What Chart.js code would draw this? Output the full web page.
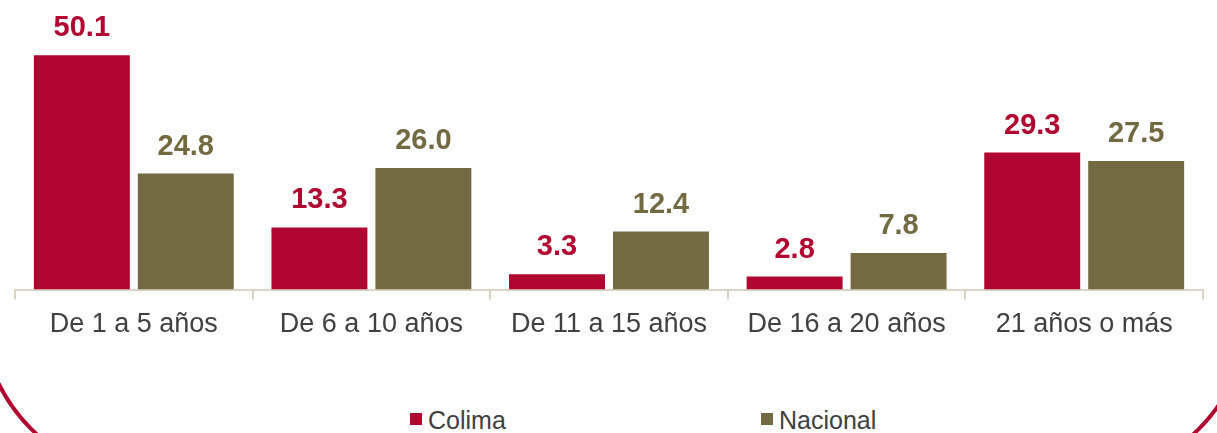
<!DOCTYPE html>
<html lang="es">
<head>
<meta charset="UTF-8">
<title>Antigüedad - Colima vs Nacional</title>
<script src="https://cdn.jsdelivr.net/npm/chart.js"></script>
<style>
    html, body {
        margin: 0;
        padding: 0;
        width: 1217px;
        height: 433px;
        overflow: hidden;
        background: #ffffff;
        font-family: 'Liberation Sans', Arial, sans-serif;
    }
    .frame {
        position: absolute;
        left: -22px;
        top: -300px;
        width: 1274px;
        height: 783px;
        box-sizing: border-box;
        border: 4px solid #b0062f;
        border-radius: 178px;
    }
    .chart-box {
        position: absolute;
        left: 0;
        top: 0;
        width: 1217px;
        height: 350px;
    }
    .legend-item {
        position: absolute;
        top: 408px;
        height: 25px;
        line-height: 25px;
        font-size: 25px;
        color: #404040;
        white-space: nowrap;
    }
    .legend-item .box {
        position: absolute;
        left: 0;
        top: 5px;
        width: 12px;
        height: 12px;
    }
    .legend-item .txt {
        position: absolute;
        left: 18px;
        top: 0;
    }
</style>
</head>
<body>
    <div class="frame"></div>
    <div class="chart-box">
        <canvas id="chart" width="1217" height="350"></canvas>
    </div>
    <div id="legend"></div>

    <script>
        const categories = ['De 1 a 5 años', 'De 6 a 10 años', 'De 11 a 15 años', 'De 16 a 20 años', '21 años o más'];
        const colima = [50.1, 13.3, 3.3, 2.8, 29.3];
        const nacional = [24.8, 26.0, 12.4, 7.8, 27.5];
        const seriesNames = ['Colima', 'Nacional'];
        const seriesColors = ['#b0062f', '#736a42'];

        const FONT = "'Liberation Sans', Arial, sans-serif";

        // etiquetas de valor encima de cada barra
        const valueLabels = {
            id: 'valueLabels',
            afterDatasetsDraw(chart) {
                const ctx = chart.ctx;
                ctx.save();
                ctx.font = 'bold 29px ' + FONT;
                ctx.textAlign = 'center';
                ctx.textBaseline = 'alphabetic';
                chart.data.datasets.forEach((ds, i) => {
                    const meta = chart.getDatasetMeta(i);
                    ctx.fillStyle = ds.backgroundColor;
                    meta.data.forEach((bar, j) => {
                        ctx.fillText(ds.data[j].toFixed(1), bar.x, bar.y - 19);
                    });
                });
                ctx.restore();
            }
        };

        const ctx = document.getElementById('chart').getContext('2d');
        new Chart(ctx, {
            type: 'bar',
            data: {
                labels: categories,
                datasets: [
                    { label: seriesNames[0], data: colima, backgroundColor: seriesColors[0] },
                    { label: seriesNames[1], data: nacional, backgroundColor: seriesColors[1] }
                ]
            },
            options: {
                responsive: false,
                animation: false,
                devicePixelRatio: 1,
                categoryPercentage: 0.875,
                barPercentage: 0.923,
                layout: {
                    padding: { left: 15, right: 14, top: 0, bottom: 0 }
                },
                plugins: {
                    legend: { display: false },
                    tooltip: { enabled: false }
                },
                scales: {
                    x: {
                        offset: true,
                        grid: {
                            offset: true,
                            drawOnChartArea: false,
                            drawTicks: true,
                            tickLength: 10,
                            color: '#d9d5c2',
                            lineWidth: 2
                        },
                        border: { color: '#d9d5c2', width: 2 },
                        ticks: {
                            color: '#404040',
                            padding: 9,
                            font: { family: FONT, size: 27 }
                        }
                    },
                    y: {
                        display: false,
                        min: 0,
                        max: 61.9
                    }
                }
            },
            plugins: [valueLabels]
        });

        // leyenda
        const legend = document.getElementById('legend');
        const legendLeft = [410, 761];
        seriesNames.forEach((name, i) => {
            const item = document.createElement('div');
            item.className = 'legend-item';
            item.style.left = legendLeft[i] + 'px';
            item.innerHTML = '<span class="box" style="background:' + seriesColors[i] + '"></span><span class="txt">' + name + '</span>';
            legend.appendChild(item);
        });
    </script>
</body>
</html>
